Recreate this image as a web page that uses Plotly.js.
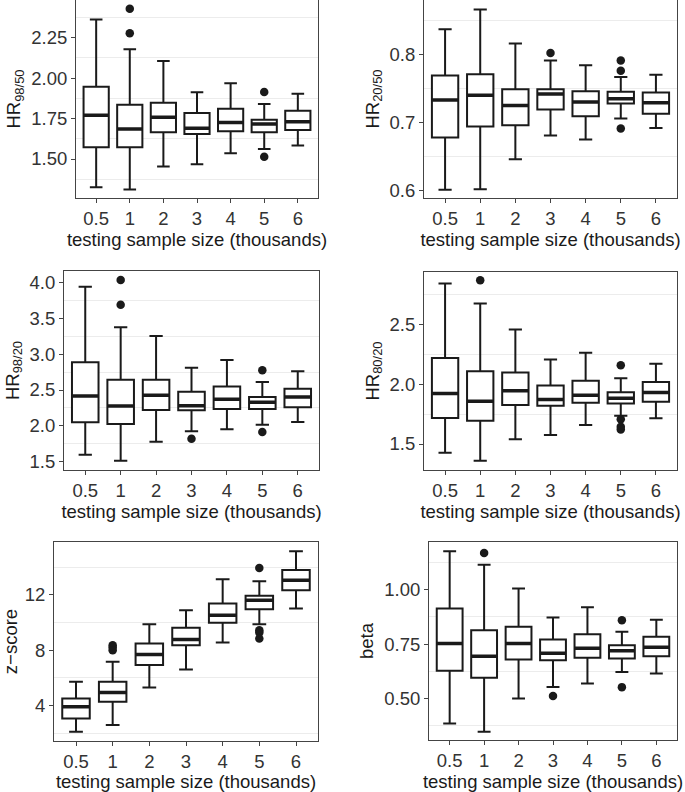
<!DOCTYPE html>
<html>
<head>
<meta charset="utf-8">
<script src="https://cdn.plot.ly/plotly-3.0.1.min.js"></script>
<style>
  html, body { margin: 0; padding: 0; background: #fff; }
  #chart { width: 685px; height: 792px; }
</style>
</head>
<body>
<div id="chart"></div>
<script>
// testing sample size (thousands)
const sizes = ['0.5', '1', '2', '3', '4', '5', '6'];

// HR 98/50
const hr9850Lo  = [1.325, 1.312, 1.453, 1.467, 1.535, 1.562, 1.584];
const hr9850Q1  = [1.572, 1.572, 1.665, 1.655, 1.671, 1.665, 1.679];
const hr9850Med = [1.770, 1.685, 1.758, 1.690, 1.725, 1.716, 1.731];
const hr9850Q3  = [1.947, 1.836, 1.848, 1.784, 1.811, 1.743, 1.799];
const hr9850Hi  = [2.363, 2.178, 2.106, 1.912, 1.968, 1.840, 1.904];
const hr9850OutX = ['1', '1', '5', '5'];
const hr9850OutY = [2.429, 2.277, 1.914, 1.514];

// HR 20/50
const hr2050Lo  = [0.601, 0.602, 0.646, 0.681, 0.675, 0.706, 0.692];
const hr2050Q1  = [0.678, 0.694, 0.696, 0.719, 0.709, 0.728, 0.713];
const hr2050Med = [0.733, 0.740, 0.725, 0.742, 0.730, 0.735, 0.729];
const hr2050Q3  = [0.769, 0.771, 0.749, 0.749, 0.746, 0.745, 0.744];
const hr2050Hi  = [0.837, 0.866, 0.816, 0.791, 0.784, 0.767, 0.770];
const hr2050OutX = ['3', '5', '5', '5'];
const hr2050OutY = [0.802, 0.791, 0.776, 0.691];

// HR 98/20
const hr9820Lo  = [1.593, 1.509, 1.776, 1.921, 1.949, 2.014, 2.051];
const hr9820Q1  = [2.047, 2.023, 2.220, 2.215, 2.234, 2.234, 2.257];
const hr9820Med = [2.416, 2.276, 2.425, 2.280, 2.369, 2.327, 2.402];
const hr9820Q3  = [2.888, 2.645, 2.645, 2.477, 2.551, 2.402, 2.519];
const hr9820Hi  = [3.949, 3.379, 3.257, 2.813, 2.921, 2.612, 2.762];
const hr9820OutX = ['1', '1', '3', '5', '5'];
const hr9820OutY = [4.042, 3.696, 1.818, 2.776, 1.911];

// HR 80/20
const hr8020Lo  = [1.428, 1.361, 1.539, 1.575, 1.658, 1.736, 1.714];
const hr8020Q1  = [1.717, 1.694, 1.825, 1.819, 1.844, 1.839, 1.853];
const hr8020Med = [1.922, 1.856, 1.944, 1.872, 1.908, 1.881, 1.931];
const hr8020Q3  = [2.217, 2.108, 2.097, 1.989, 2.028, 1.933, 2.017];
const hr8020Hi  = [2.839, 2.672, 2.456, 2.206, 2.261, 2.050, 2.170];
const hr8020OutX = ['1', '5', '5', '5', '5'];
const hr8020OutY = [2.867, 2.158, 1.706, 1.644, 1.622];

// z-score
const zLo  = [2.12, 2.60, 5.32, 6.62, 8.56, 9.88, 11.01];
const zQ1  = [3.08, 4.28, 6.93, 8.37, 9.98, 10.97, 12.34];
const zMed = [3.92, 4.96, 7.70, 8.78, 10.53, 11.62, 13.06];
const zQ3  = [4.52, 5.73, 8.49, 9.62, 11.38, 11.93, 13.80];
const zHi  = [5.73, 7.17, 9.88, 10.89, 13.13, 12.99, 15.15];
const zOutX = ['1', '1', '1', '5', '5', '5', '5'];
const zOutY = [8.37, 8.20, 8.01, 13.95, 9.45, 9.28, 8.85];

// beta
const betaLo  = [0.385, 0.347, 0.500, 0.553, 0.569, 0.622, 0.615];
const betaQ1  = [0.627, 0.595, 0.679, 0.676, 0.687, 0.683, 0.694];
const betaMed = [0.752, 0.694, 0.752, 0.708, 0.731, 0.719, 0.735];
const betaQ3  = [0.913, 0.813, 0.829, 0.771, 0.795, 0.745, 0.783];
const betaHi  = [1.176, 1.115, 1.005, 0.872, 0.919, 0.806, 0.862];
const betaOutX = ['1', '3', '5', '5'];
const betaOutY = [1.168, 0.511, 0.859, 0.552];

const W = 685, H = 792;
const ink = '#1a1a1a';
const font = 'Liberation Sans, Arial, Helvetica, sans-serif';

const panels = [
  { lo: hr9850Lo, q1: hr9850Q1, med: hr9850Med, q3: hr9850Q3, hi: hr9850Hi, ox: hr9850OutX, oy: hr9850OutY,
    title: 'HR<sub>98/50</sub>', px: [76, 318], py: [0, 198], range: [1.259, 2.483], dtick: 0.25, fmt: '.2f', m0: 0.125 },
  { lo: hr2050Lo, q1: hr2050Q1, med: hr2050Med, q3: hr2050Q3, hi: hr2050Hi, ox: hr2050OutX, oy: hr2050OutY,
    title: 'HR<sub>20/50</sub>', px: [424, 677], py: [0, 198], range: [0.589, 0.880], dtick: 0.1, fmt: '.1f', m0: 0.05 },
  { lo: hr9820Lo, q1: hr9820Q1, med: hr9820Med, q3: hr9820Q3, hi: hr9820Hi, ox: hr9820OutX, oy: hr9820OutY,
    title: 'HR<sub>98/20</sub>', px: [64, 319], py: [271, 470], range: [1.379, 4.168], dtick: 0.5, fmt: '.1f', m0: 0.25 },
  { lo: hr8020Lo, q1: hr8020Q1, med: hr8020Med, q3: hr8020Q3, hi: hr8020Hi, ox: hr8020OutX, oy: hr8020OutY,
    title: 'HR<sub>80/20</sub>', px: [424, 677], py: [272, 470], range: [1.283, 2.936], dtick: 0.5, fmt: '.1f', m0: 0.25 },
  { lo: zLo, q1: zQ1, med: zMed, q3: zQ3, hi: zHi, ox: zOutX, oy: zOutY,
    title: 'z\u2212score', px: [54, 318], py: [542, 741], range: [1.45, 15.82], dtick: 4, fmt: 'd', m0: 2 },
  { lo: betaLo, q1: betaQ1, med: betaMed, q3: betaQ3, hi: betaHi, ox: betaOutX, oy: betaOutY,
    title: 'beta', px: [429, 677], py: [542, 740], range: [0.309, 1.219], dtick: 0.25, fmt: '.2f', m0: 0.125 }
];

const traces = [];
const layout = {
  width: W, height: H,
  margin: { l: 0, r: 0, t: 0, b: 0 },
  paper_bgcolor: '#fff', plot_bgcolor: '#fff',
  showlegend: false,
  font: { family: font, size: 18, color: ink },
  boxmode: 'overlay'
};

panels.forEach((p, i) => {
  const n = i === 0 ? '' : String(i + 1);
  const xa = 'x' + n, ya = 'y' + n;

  traces.push({
    type: 'box', xaxis: xa, yaxis: ya,
    x: sizes, q1: p.q1, median: p.med, q3: p.q3, lowerfence: p.lo, upperfence: p.hi,
    width: 0.75, boxpoints: false, fillcolor: '#fff',
    line: { color: ink, width: 2 }, hoverinfo: 'skip'
  });
  // thicker median bar, like ggplot's fatten
  traces.push({
    type: 'box', xaxis: xa, yaxis: ya,
    x: sizes, q1: p.med, median: p.med, q3: p.med, lowerfence: p.med, upperfence: p.med,
    width: 0.75, boxpoints: false, fillcolor: 'rgba(0,0,0,0)',
    line: { color: ink, width: 3.5 }, hoverinfo: 'skip'
  });
  traces.push({
    type: 'scatter', mode: 'markers', xaxis: xa, yaxis: ya,
    x: p.ox, y: p.oy,
    marker: { color: ink, size: 8.5 }, hoverinfo: 'skip'
  });

  layout['xaxis' + n] = {
    domain: [p.px[0] / W, p.px[1] / W],
    anchor: ya,
    type: 'category',
    categoryorder: 'array', categoryarray: sizes,
    range: [-0.6, 6.6],
    showgrid: false, zeroline: false,
    showline: true, mirror: true, linecolor: '#444', linewidth: 1,
    ticks: 'outside', ticklen: 4, tickcolor: '#444', tickwidth: 1,
    tickfont: { family: font, size: 18.5, color: '#333' },
    title: { text: 'testing sample size (thousands)', font: { family: font, size: 18.5, color: ink }, standoff: 4 },
    fixedrange: true
  };
  layout['yaxis' + n] = {
    domain: [1 - p.py[1] / H, 1 - p.py[0] / H],
    anchor: xa,
    range: p.range,
    dtick: p.dtick, tick0: 0, tickformat: p.fmt,
    showgrid: false, zeroline: false,
    minor: { showgrid: true, gridcolor: '#ececec', gridwidth: 1, dtick: p.dtick, tick0: p.m0, ticks: '' },
    showline: true, mirror: true, linecolor: '#444', linewidth: 1,
    ticks: 'outside', ticklen: 4, tickcolor: '#444', tickwidth: 1,
    tickfont: { family: font, size: 18.5, color: '#333' },
    title: { text: p.title, font: { family: font, size: 18.5, color: ink }, standoff: 5 },
    fixedrange: true
  };
});

Plotly.newPlot('chart', traces, layout, { displayModeBar: false, staticPlot: true });
</script>
</body>
</html>
